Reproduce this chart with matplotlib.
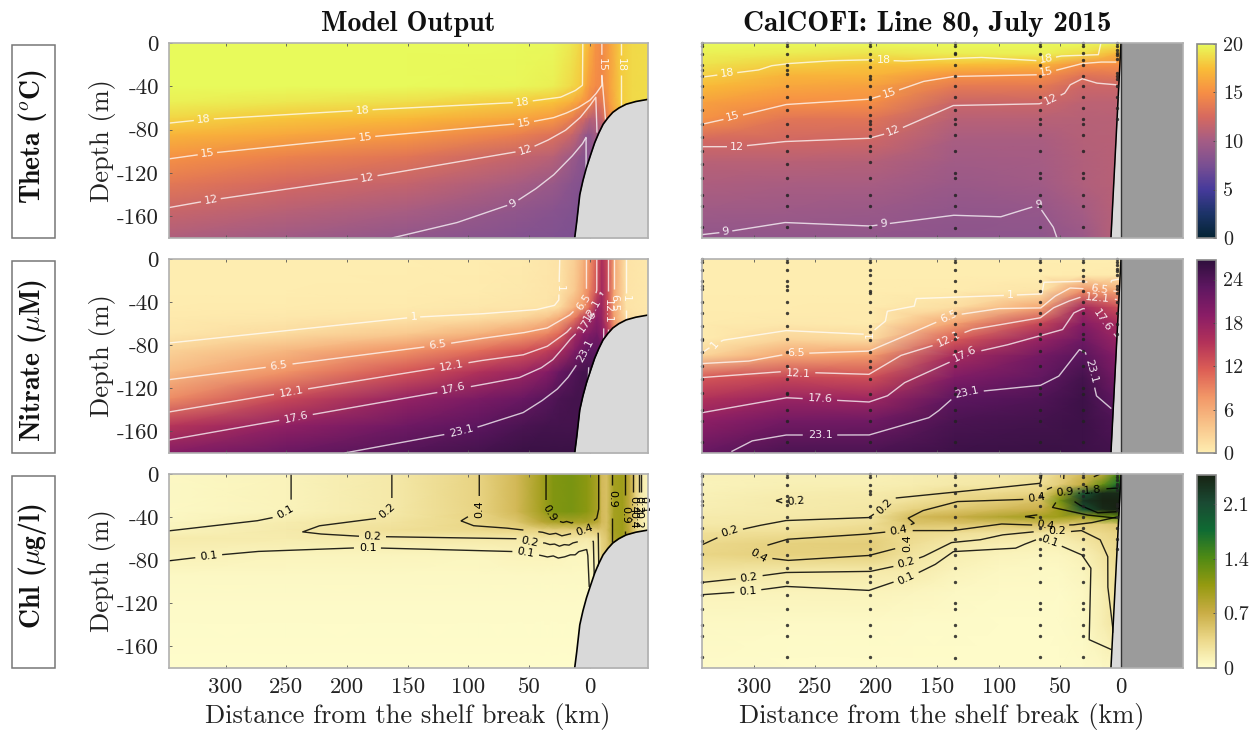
import matplotlib
matplotlib.use("Agg")
import matplotlib.pyplot as plt
import numpy as np
from matplotlib.colors import LinearSegmentedColormap
from matplotlib.patches import Rectangle

plt.rcParams['font.family'] = 'cmr10'
plt.rcParams['mathtext.fontset'] = 'cm'
plt.rcParams['axes.unicode_minus'] = False

W, H = 1250, 731

depth_ticks = [0, -40, -80, -120, -160]
dist_ticks = [300, 250, 200, 150, 100, 50, 0]

# ---- topography
topo_x = [12.4, 10.7, 8.2, 5.6, 2.7, -0.8, -4.1, -7.5, -11, -15, -19, -24, -30, -38, -48]
topo_z = [-180, -165, -140, -127, -115, -103, -92, -83, -75, -69, -64, -60, -56.5, -54, -52]
wedge_x = [8.2, 0]
wedge_z = [-180, 0]

# ---- CalCOFI stations, depths sampled at each one
station_x = [342.5, 273.4, 205, 136, 66, 31, 3.3]
theta_depths = [
    [0, 3, 10, 20, 25, 30, 40, 50, 62, 75, 87, 100, 112, 125, 140, 150, 170],
    [0, 3, 10, 20, 25, 29, 40, 50, 62, 75, 86, 100, 112, 125, 140, 150, 170],
    [0, 3, 10, 16, 22, 30, 33, 40, 50, 52, 59, 66, 72, 75, 79, 86, 95, 100, 110, 125, 140, 150, 170],
    [0, 3, 9, 10, 20, 30, 40, 50, 62, 70, 75, 85, 100, 120, 125, 140, 150, 171],
    [0, 3, 10, 20, 30, 40, 50, 62, 70, 75, 85, 100, 120, 125, 140, 150, 170],
    [0, 3, 9, 16, 20, 30, 40, 50, 60, 70, 75, 85, 100, 120, 125, 140, 150, 170],
    [0, 3, 6, 9, 11, 15, 28, 30, 33, 40, 50, 60, 70],
]
nitrate_depths = [
    [0, 3, 10, 20, 25, 28, 40, 50, 62, 74, 75, 86, 99, 111, 124, 140, 150, 170],
    [0, 3, 10, 20, 25, 29, 40, 50, 62, 74, 86, 99, 111, 124, 125, 140, 150, 170],
    [0, 3, 10, 15, 22, 30, 32, 40, 49, 62, 68, 75, 86, 95, 100, 111, 125, 140, 150, 170],
    [0, 3, 10, 20, 30, 40, 50, 60, 70, 74, 85, 99, 120, 125, 140, 150, 170],
    [0, 3, 10, 20, 30, 40, 50, 60, 70, 74, 85, 99, 120, 125, 140, 150, 170],
    [0, 3, 10, 16, 20, 30, 40, 50, 60, 70, 74, 85, 99, 120, 125, 140, 150, 170],
    [0, 3, 6, 9, 11, 15, 25, 28, 32, 40, 50, 60, 70],
]
chl_depths = [
    [0, 2, 9, 19, 25, 29, 40, 50, 62, 74, 87, 100, 112, 125, 140, 150, 170],
    [0, 3, 10, 20, 25, 29, 40, 50, 62, 75, 87, 100, 112, 125, 140, 150, 170],
    [0, 3, 10, 16, 19, 30, 40, 50, 62, 70, 75, 87, 95, 100, 112, 125, 140, 150, 170],
    [0, 3, 10, 18, 30, 40, 50, 60, 70, 75, 87, 100, 120, 125, 140, 150, 171],
    [0, 3, 10, 20, 30, 40, 50, 60, 70, 75, 87, 100, 120, 125, 140, 150, 170],
    [0, 3, 9, 16, 20, 30, 40, 50, 60, 70, 75, 87, 100, 120, 125, 140, 150, 170],
    [0, 3, 6, 9, 11, 15, 28, 30, 33, 40, 50, 60, 70],
]

# ---- fields, model side
theta_m_x = [347, 250, 150, 60, 30, 15, 8, 3, 0, -5, -10, -16, -25, -35, -48]
theta_m_z = [0, -40, -55, -70, -85, -105, -130, -155, -180]
theta_m = [
    [20, 20, 20, 20, 19.9, 19.2, 18.5, 17.8, 16.8, 15.3, 14.6, 15.8, 18, 18.6, 18.8],
    [20, 20, 20, 19.8, 19.5, 18.6, 18, 16.3, 15.5, 14.8, 14.6, 15.8, 18, 18.6, 18.8],
    [19.6, 19.2, 18.8, 18, 17.6, 16.6, 15.7, 15, 14.5, 13, 13.5, 15.5, 18, 18.6, 18.8],
    [18.4, 17.8, 17.2, 16.2, 15.5, 14, 12.8, 11.8, 11, 11, 12, 14.5, 17.5, 18, 18],
    [17, 16.3, 15.5, 14, 13, 11.8, 10.5, 9, 8.8, 10, 10, 10, 10, 10, 10],
    [15.2, 14.2, 13.3, 11.7, 11, 9.6, 8.7, 8.3, 8.3, 8.3, 8.3, 8.3, 8.3, 8.3, 8.3],
    [13.5, 12.4, 11.6, 10.2, 9.3, 8.4, 8.1, 8, 8, 8, 8, 8, 8, 8, 8],
    [11.8, 11, 10.2, 8.9, 8.3, 8, 7.8, 7.8, 7.8, 7.8, 7.8, 7.8, 7.8, 7.8, 7.8],
    [10.5, 9.7, 8.9, 8.1, 7.9, 7.8, 7.8, 7.8, 7.8, 7.8, 7.8, 7.8, 7.8, 7.8, 7.8],
]
nitrate_m_x = [347, 250, 150, 91, 55, 35, 25, 12, 5, 0, -6, -10, -15, -20, -30, -48]
nitrate_m_z = [0, -30, -45, -55, -70, -85, -105, -130, -155, -180]
nitrate_m = [
    [.1, .1, .1, .2, .4, .7, 1, 3, 5.5, 8, 12, 16, 13, 6.5, 1, .5],
    [.1, .1, .2, .3, .5, .8, 1, 3.5, 6.5, 9, 13, 17, 13, 6.5, 1, .5],
    [.2, .3, .4, .6, .8, .9, 1.6, 6, 7.5, 11, 17.6, 17.6, 13, 6.5, 1, .5],
    [.4, .6, 1, 1.5, 2.5, 4, 6, 10, 14.5, 17, 19, 18, 13, 7, 1.5, .5],
    [.7, 1.8, 3.5, 5.5, 7.5, 9, 11, 17, 19, 20, 21, 19, 16, 10, 4, 1],
    [2.5, 5, 8, 10.5, 12.5, 14, 16, 20, 22, 23, 23, 23, 23, 23, 23, 23],
    [4.5, 8, 12.5, 15.5, 17.5, 19.5, 22, 24, 25, 25, 25, 25, 25, 25, 25, 25],
    [8.5, 13.5, 18.2, 20.5, 22, 23.5, 24.5, 25, 25, 25, 25, 25, 25, 25, 25, 25],
    [15, 18.5, 21.5, 23.1, 24.5, 25, 25, 25, 25, 25, 25, 25, 25, 25, 25, 25],
    [19.5, 22, 23.8, 25, 25.8, 25.8, 25.8, 25.8, 25.8, 25.8, 25.8, 25.8, 25.8, 25.8, 25.8, 25.8],
]
chl_m_x = [347, 250, 163, 91, 60, 40, 30, 15, 2, -7, -10, -14, -20, -27, -33, -38, -42, -48]
chl_m_z = [0, -35, -45, -52, -60, -75, -95, -125, -180]
chl_m = [
    [.05, .1, .2, .4, .62, .95, 1.15, 1.2, 1.1, .9, .6, .55, .95, 1.0, .75, .4, .2, .08],
    [.05, .1, .2, .4, .62, .95, 1.15, 1.2, 1.1, .9, .6, .55, .95, 1.0, .75, .4, .2, .08],
    [.07, .17, .25, .38, .5, .8, .9, .9, .9, .8, .6, .55, .95, 1.0, .75, .4, .2, .08],
    [.1, .19, .28, .36, .38, .42, .45, .45, .42, .5, .5, .55, .95, 1.0, .75, .4, .2, .08],
    [.18, .17, .19, .2, .2, .22, .22, .22, .2, .25, .42, .5, .9, 1.0, .75, .4, .2, .08],
    [.12, .09, .09, .07, .1, .1, .1, .08, .08, .15, .4, .5, .7, .8, .7, .4, .2, .08],
    [.05, .05, .05, .05, .05, .05, .05, .05, .05, .1, .3, .3, .3, .3, .3, .3, .2, .08],
    [.03, .03, .03, .03, .03, .03, .03, .03, .03, .03, .03, .03, .03, .03, .03, .03, .03, .03],
    [.01, .01, .01, .01, .01, .01, .01, .01, .01, .01, .01, .01, .01, .01, .01, .01, .01, .01],
]

# ---- fields, CalCOFI side
theta_c_x = [342.5, 273.4, 205, 136, 66, 31, 3.3, -2]
theta_c_z = [0, -10, -20, -30, -40, -55, -70, -90, -110, -130, -155, -180]
theta_c = [
    [20, 20, 20, 20, 20, 20, 19.6, 19.6],
    [19.6, 19.3, 19, 19.4, 19.6, 18.8, 17, 17],
    [19, 18.2, 17.8, 17.5, 17.2, 15, 15, 15],
    [18.2, 17, 17, 15.2, 15, 13.2, 13.5, 13.5],
    [17.4, 16.3, 16, 13.6, 13.6, 12, 12, 12],
    [16, 15, 15, 11.8, 12, 11.2, 11.2, 11.2],
    [15.2, 13.4, 13.3, 11, 11, 10.9, 11, 11],
    [12.4, 12.2, 12.1, 10.2, 10.3, 10.8, 11, 11],
    [11, 11, 10.8, 9.8, 10, 10.7, 11, 11],
    [10.4, 10.3, 10.2, 9.4, 9.8, 10.6, 11, 11],
    [9.7, 9.6, 9.4, 8.9, 9.1, 10, 11, 11],
    [8.9, 8.9, 8.9, 8.6, 8.7, 9.4, 11, 11],
]
nitrate_c_x = [342.5, 273.4, 205, 136, 66, 31, 3.3, -2]
nitrate_c_z = [0, -15, -30, -45, -60, -75, -90, -110, -130, -150, -180]
nitrate_c = [
    [.1, .1, .1, .1, .1, .1, .1, .1],
    [.1, .1, .1, .1, .1, .3, .4, .4],
    [.1, .1, .1, .3, .8, 8.5, 6.5, 6.5],
    [.15, .2, .3, 1.5, 6.5, 16.8, 13, 13],
    [.3, .5, .3, 6.8, 13.5, 19.5, 16.5, 16.5],
    [.3, 2.5, 1.8, 12, 18, 21.5, 17.8, 17.8],
    [2.5, 6.5, 7.5, 16.5, 21, 23.3, 19.5, 19.5],
    [12.1, 13.5, 12.8, 20, 22.5, 25, 21, 21],
    [15.5, 17.8, 17.2, 23.1, 24, 25.5, 22.8, 22.8],
    [18.6, 21, 21.2, 24.5, 25, 25.5, 24, 24],
    [22.3, 24.5, 24.5, 25.5, 25.8, 25.5, 25, 25],
]
chl_c_x = [342.5, 273.4, 205, 170, 136, 100, 66, 50, 31, 15, 3.3, -2]
chl_c_z = [0, -10, -18, -25, -33, -40, -47, -55, -65, -75, -90, -110, -140, -180]
chl_c = [
    [.12, .12, .12, .15, .18, .2, .25, .4, .6, .8, 1.4, 1.4],
    [.1, .13, .14, .16, .2, .22, .3, .45, .75, 1.3, 1.7, 1.7],
    [.12, .16, .18, .22, .33, .35, .4, .9, 2.0, 2.4, 2.4, 2.4],
    [.13, .18, .2, .28, .38, .45, .55, 1.2, 2.3, 2.5, 2.5, 2.5],
    [.15, .18, .22, .42, .5, .6, .7, 1.0, 2.0, 2.4, 2.5, 2.5],
    [.18, .2, .25, .6, .7, .85, .95, 1.0, .9, 1.2, 1.3, 1.3],
    [.2, .22, .3, .5, .5, .5, .55, .5, .45, .45, .5, .5],
    [.28, .3, .38, .35, .3, .25, .25, .22, .3, .35, .4, .4],
    [.35, .42, .45, .3, .2, .15, .13, .12, .2, .3, .35, .35],
    [.38, .42, .42, .25, .15, .1, .08, .08, .12, .25, .35, .35],
    [.25, .21, .2, .18, .1, .06, .05, .05, .09, .2, .3, .3],
    [.1, .1, .1, .08, .05, .04, .04, .03, .06, .15, .3, .3],
    [.05, .04, .04, .03, .03, .02, .02, .03, .05, .15, .25, .25],
    [.03, .02, .02, .02, .02, .02, .02, .02, .03, .05, .06, .06],
]

# ---- contours (km, m)
theta_m_lines = [
    ([347, 318, 187, 55, 24, 12, 6, 5.7], [-74, -70.6, -62, -54.6, -50, -44, -39, 0]),
    ([-26, -26], [0, -60]),
    ([347, 315, 185, 54, 30, 20, 10, 0, -5, -10, -10], [-107, -102, -87, -74, -69, -65, -60, -53, -47, -39, 0]),
    ([-10, -13], [-30, -71]),
    ([347, 312, 183, 53, 35, 20, 8, 0, -5, -6], [-152, -145, -124, -99, -90, -80.6, -69, -58, -50, -83]),
    ([163, 110, 63, 45, 30, 15, 6, 3, 3], [-180, -166, -148, -135, -122, -105, -93, -87, -125]),
]
theta_m_labels = [
    ("18", 318, -70.6, 5), ("18", 187, -62, 4), ("18", 55, -54.6, 6),
    ("15", 315, -102, 6), ("15", 185, -87, 6), ("15", 54, -74, 10),
    ("12", 312, -145, 10), ("12", 183, -124, 10), ("12", 53, -99, 18),
    ("9", 63, -148, 30), ("15", -10, -20, -90), ("18", -26, -20, -90),
]
nitrate_m_lines = [
    ([347, 145, 91, 44, 29, 25.5, 24.7], [-78, -54, -51, -47, -43, -38, 0]),
    ([-29.7, -29.7], [0, -56.5]),
    ([347, 256, 125, 91, 55, 35, 16.5, 10, 2.7, 2.7], [-112, -99, -80, -74, -68.5, -64, -52, -45, -29, 0]),
    ([-20, -20], [0, -63]),
    ([347, 246, 114, 91, 55, 35, 19, 8, -2.7, -5.8, -5.8], [-142, -123, -99, -94.5, -89, -81, -68, -55, -41, -29, 0]),
    ([-15, -15], [0, -69]),
    ([347, 242, 91, 58, 40, 30.5, 23, 16.5, 6.6, -6.6, -8.7, -11.5, -11.5], [-168, -147, -117, -110, -101, -93.5, -84, -75, -64, -44, -31, -34, -74]),
    ([202, 106, 91, 55, 40, 27, 18, 10.7, 1.6, 0, 1.2], [-180, -160, -155.5, -142.6, -132, -121, -110, -98, -73, -70, -112]),
]
nitrate_m_labels = [
    ("1", 145, -54, 4), ("1", 25, -27, -90), ("1", -29.7, -37, -90),
    ("6.5", 256, -99, 8), ("6.5", 125, -80, 8), ("6.5", 5, -40, 55), ("6.5", -20, -41, -90),
    ("12.1", 246, -123, 10), ("12.1", 114, -99, 10), ("12.1", -2, -47, 60), ("12.1", -15, -49, -90),
    ("17.6", 242, -147, 12), ("17.6", 112, -120, 12), ("17.6", 2, -58, 55),
    ("23.1", 106, -160, 14), ("23.1", 4, -85, 62),
]
chl_m_lines = [
    ([347, 274.5, 257, 251, 246, 246], [-52.8, -43.5, -39.5, -38, -27, 0]),
    ([347, 320, 314, 274.5, 191, 179, 61, 53, 40, 35, 30, 26, 21, 16, 12, 9, 2.5, 1.6, 0.4],
     [-80.6, -77, -76, -71.9, -68.5, -68.5, -72, -73, -75.6, -77, -76, -78, -77, -75, -75, -72, -70, -75, -105]),
    ([163, 163, 167, 174, 222.5, 236.5, 222.5, 186, 179, 61, 49.5, 37, 33, 29, 25, 21, 17, 14, 10, 5.8, 0.8, -3, -3.7],
     [0, -27, -36, -41, -48, -53.7, -55.6, -58, -58, -60, -63, -64, -65.5, -65, -67, -65.5, -66, -64, -63, -60, -59, -62.7, -94]),
    ([91, 91, 95, 106, 95.6, 70, 39, 33, 28, 23, 18, 12, 4.6, -2, -7, -7.5],
     [0, -27, -36, -43.5, -48, -50, -54, -56, -55, -57.4, -56, -54.6, -53.4, -53, -55, -90]),
    ([36, 36, 34, 26, 22, 19, 15, 12, 8, 4, 0, -3, -5.8, -7.4, -7.4],
     [0, -27, -37, -43.5, -45, -44, -45.5, -44, -45.5, -44, -45, -43.5, -41, -33, 0]),
    ([-18.7, -18.7], [0, -63]),
    ([-29.4, -29.4], [0, -56]),
    ([-36, -36], [0, -54]),
    ([-40.5, -40.5], [0, -53]),
    ([-42, -42], [0, -53]),
]
chl_m_labels = [
    ("0.1", 251, -35, 30), ("0.1", 314, -76, 6), ("0.1", 183, -68.5, 0), ("0.1", 52.7, -73, -10),
    ("0.2", 167, -34, 40), ("0.2", 179, -58, -3), ("0.2", 49.5, -63, -12),
    ("0.4", 91, -33, 90), ("0.4", 4.6, -52, 20),
    ("0.9", 33, -36, -60), ("0.9", -18.7, -23, -90), ("0.9", -29.4, -38, -90),
    ("0.4", -36, -29, -90), ("0.2", -40, -29, -90), ("0.1", -44, -29, -90),
    ("0.4", -36, -43, -90), ("0.2", -40, -43, -90),
]

# ---- contours (km, m)
theta_c_lines = [
    ([342.5, 326, 296.6, 285.8, 272, 238, 204, 178, 136, 114.7, 67, 49, 18.5, 16.4],
     [-31.5, -29, -25, -21, -19, -16.4, -15.4, -16.7, -14.2, -13.3, -16.4, -12, -10.8, 0]),
    ([342.5, 317, 300, 274, 206, 189, 161.6, 137, 67, 32, 16.9, 3.7],
     [-75, -68.6, -64, -56.8, -51.9, -46.3, -35.5, -30.9, -29.3, -19, -17.6, -17.6]),
    ([342.5, 314, 275.5, 206, 186, 137, 67, 57, 46, 41.5, 31.7, 20, 3.7],
     [-95.7, -95.7, -91, -88, -81.8, -57.7, -56.2, -52.5, -46.3, -38.6, -33, -37, -38.6]),
    ([342.5, 323, 275, 205, 194, 137, 98.5, 67.7, 55.4, 52.3],
     [-176.9, -174.4, -165.7, -169, -167.3, -159, -160.5, -149.7, -169.8, -180]),
]
theta_c_labels = [
    ("18", 322, -28, 8), ("18", 194, -15.5, 0), ("18", 61, -15, 10),
    ("15", 317, -68, 15), ("15", 189, -46, 18), ("15", 61, -27, 10),
    ("12", 314, -95.7, 0), ("12", 186, -81, 22), ("12", 57, -52, 25),
    ("9", 323, -174.4, 8), ("9", 194, -167, 5), ("9", 67.7, -149, 5),
]
nitrate_c_lines = [
    ([342.5, 332, 325, 274, 206, 192.6, 191, 169, 167.4, 90.5, 64.6, 63, 32, 9, 7.7, 1],
     [-87, -79, -75.3, -66.4, -70, -57.7, -48.5, -43.8, -36.7, -33.6, -32.4, -21.6, -20.7, -24.7, -20, -18.5]),
    ([342.5, 304.7, 272, 206, 180, 149, 141, 100, 65.6, 54, 41.5, 26, 3],
     [-97, -94.8, -88, -85.5, -73, -57.7, -53, -46, -45.4, -34.6, -26.9, -27.8, -30]),
    ([342.5, 278, 206, 180, 151, 141, 121.6, 66, 55.4, 43, 32, 3],
     [-110, -104.6, -107, -89.5, -79.3, -74, -65.4, -54.6, -45.4, -39.2, -35, -37.6]),
    ([342.5, 273.4, 206, 191, 177, 140, 128, 94, 47.7, 38.5, 31, 23, 3],
     [-142.6, -128.7, -132.7, -127, -114.8, -95.7, -88.6, -80, -65.4, -50, -46, -47, -73]),
    ([318.5, 301.7, 274, 206, 157, 149.3, 138.5, 126, 66, 50.8, 33.9, 29, 24.6, 20, 7.7],
     [-178.7, -168.8, -163.3, -163.3, -147.2, -141, -130.2, -124, -117.3, -108.6, -84, -87, -104, -127, -139]),
]
nitrate_c_labels = [
    ("1", 332, -79, 50), ("1", 90.5, -33.6, 0), ("1", 205, -70, 90),
    ("6.5", 266, -87, 0), ("6.5", 141, -53, 25), ("6.5", 18, -28, -8),
    ("12.1", 264, -106, -3), ("12.1", 141, -74, 25), ("12.1", 19, -36, -5),
    ("17.6", 246, -130, -3), ("17.6", 128, -88, 25), ("17.6", 15, -57, -55),
    ("23.1", 246, -163, 0), ("23.1", 126, -124, 12), ("23.1", 24.6, -104, -75),
]
chl_c_lines = [
    ([342.5, 320, 297, 274, 206, 193, 186, 137, 66, 64.6], [-65.7, -54, -48.1, -43.2, -40.4, -30, -22.5, -17, -8.6, 0]),
    ([282, 272, 272.4, 282], [-24.7, -21, -28.7, -24.7]),
    ([3.7, 23, 38.5, 61.6, 97, 137, 181.6, 206, 272.4, 300, 301.6, 287.8, 272.4, 206, 180, 175.4, 172.4, 169, 174, 162, 134, 77, 69, 62, 60, 47, 46.6],
     [-40, -45, -47.2, -47.8, -46.3, -52.5, -52.5, -55.6, -60.5, -69.8, -73.5, -78, -80.2, -75.6, -67.9, -62.7, -47.2, -45.7, -41, -34, -25.6, -23.5, -22, -17.6, -14, -8, 0]),
    ([78.5, 69, 61.6, 69, 78.5], [-39.5, -38, -39.5, -41, -39.5]),
    ([342.5, 304, 274.3, 205, 186, 175.4, 161.6, 138.5, 115.4, 97, 69, 60, 50.8, 41.5, 32.3, 17, 10.8, 10.8, 6.2],
     [-100.6, -96, -91.4, -90.4, -85.8, -82, -76.6, -63.6, -61.1, -56.5, -53.4, -52, -53.4, -53.4, -52.5, -61, -76.5, -104.3, -147.5]),
    ([342.5, 305, 274, 206, 180, 175.4, 152, 137, 86, 80, 66, 58.5, 49, 32, 24.6, 26, 7.7],
     [-112, -109, -104.3, -108, -98, -97, -84, -72, -68.8, -65.7, -59.6, -62.7, -66.7, -75, -87.3, -153.7, -163]),
    ([17, 23, 24, 32, 46, 52, 56, 53, 56, 28, 3.3], [0, -3, -7, -13, -17, -19, -21, -26, -31, -38, -41]),
    ([2.5, 15.5, 35, 44, 33.5, 19, 3.3], [-13, -14, -18, -21, -29, -36, -35]),
]
chl_c_labels = [
    ("0.2", 320, -53, 18), ("0.2", 193, -30, 45), ("0.2", 266, -25, 5),
    ("0.4", 296, -76, -30), ("0.4", 181.6, -52.5, 10), ("0.4", 174.5, -64, 90),
    ("0.4", 61.6, -48, -8), ("0.4", 69, -22, 8),
    ("0.2", 304, -96, 8), ("0.2", 175.4, -82, 15), ("0.2", 52, -53, 0),
    ("0.1", 305, -109, 4), ("0.1", 175.4, -97, 25), ("0.1", 58.5, -62, -20),
    ("0.9", 46, -17, 5), ("1.8", 23, -15, 5),
]

# colour maps sampled from the colour bars
thermal = LinearSegmentedColormap.from_list("thermal", ["#042333", "#1c3368", "#463a9b", "#7a4f92", "#a45c85", "#d6695f", "#f68e45", "#f9bd37", "#e8fa5b"])
matter = LinearSegmentedColormap.from_list("matter", ["#feedb0", "#f8c48a", "#f29868", "#dd5f55", "#b33259", "#8a1d66", "#5f1761", "#2f0f3d"])
speed = LinearSegmentedColormap.from_list("speed", ["#fffdcd", "#ecd98b", "#c9ad45", "#959a10", "#4f8a14", "#0f6b33", "#1a4a33", "#172313"])


def px_axes(x0, y0, x1, y1):
    return fig.add_axes([x0 / W, 1 - y1 / H, (x1 - x0) / W, (y1 - y0) / H])


def draw_line(ax, xs, zs, labels, color, alpha, lw):
    # cut a gap in the line where a label sits
    pts = ax.transData.transform(np.column_stack([xs, zs]))
    seg = np.hypot(*np.diff(pts, axis=0).T)
    s = np.r_[0, np.cumsum(seg)]
    si = np.arange(0, s[-1], 0.5)
    fx, fy = np.interp(si, s, pts[:, 0]), np.interp(si, s, pts[:, 1])
    for txt, lx, lz, rot in labels:
        c = ax.transData.transform((lx, lz))
        r = 3.6 * len(txt) + 2.5
        hit = np.hypot(fx - c[0], fy - c[1]) < r
        fx, fy = np.where(hit, np.nan, fx), np.where(hit, np.nan, fy)
    back = ax.transData.inverted()
    good = np.column_stack([fx, fy])
    out = np.full_like(good, np.nan)
    ok = ~np.isnan(fx)
    out[ok] = back.transform(good[ok])
    ax.plot(out[:, 0], out[:, 1], color=color, alpha=alpha, lw=lw, zorder=3, solid_capstyle="butt")


def panel(ax, xn, zn, values, cmap, vmax, lines, labels, color, alpha):
    mesh = ax.pcolormesh(xn, zn, np.array(values), shading="gouraud", cmap=cmap, vmin=0, vmax=vmax, rasterized=True, zorder=1)
    for xs, zs in lines:
        draw_line(ax, xs, zs, labels, color, alpha, 1.0)
    for txt, lx, lz, rot in labels:
        ax.text(lx, lz, txt, color=color, alpha=min(alpha + 0.15, 1), fontsize=8, family="DejaVu Sans",
                rotation=rot, rotation_mode="anchor", ha="center", va="center", zorder=4)
    return mesh


def finish(ax, left, bottom):
    ax.set_ylim(-180, 0)
    ax.set_yticks(depth_ticks)
    ax.set_xticks(dist_ticks)
    ax.set_yticklabels([str(v) for v in depth_ticks] if left else [])
    ax.set_xticklabels([str(v) for v in dist_ticks] if bottom else [])
    ax.tick_params(direction="in", length=2, width=0.6, color="#555555", top=True, labelsize=16.5, pad=7, labelcolor="#222222")
    if not left:
        ax.tick_params(left=False)
    for sp in ax.spines.values():
        sp.set_color("#b0b0b0")
        sp.set_linewidth(1.2)
        sp.set_zorder(8)


fig = plt.figure(figsize=(12.5, 7.31), dpi=100)

rows_px = [(43, 238), (259, 453), (474, 668)]
model_fields = [
    (theta_m_x, theta_m_z, theta_m, thermal, 20, theta_m_lines, theta_m_labels, "white", 0.75),
    (nitrate_m_x, nitrate_m_z, nitrate_m, matter, 26.7, nitrate_m_lines, nitrate_m_labels, "white", 0.75),
    (chl_m_x, chl_m_z, chl_m, speed, 2.47, chl_m_lines, chl_m_labels, "black", 0.85),
]
cal_fields = [
    (theta_c_x, theta_c_z, theta_c, thermal, 20, theta_c_lines, theta_c_labels, "white", 0.75, theta_depths),
    (nitrate_c_x, nitrate_c_z, nitrate_c, matter, 26.7, nitrate_c_lines, nitrate_c_labels, "white", 0.75, nitrate_depths),
    (chl_c_x, chl_c_z, chl_c, speed, 2.47, chl_c_lines, chl_c_labels, "black", 0.85, chl_depths),
]
cbar_ticks = [[0, 5, 10, 15, 20], [0, 6, 12, 18, 24], [0, 0.7, 1.4, 2.1]]
row_names = [r"Theta ($^{o}$C)", r"Nitrate ($\mu$M)", r"Chl ($\mu$g/l)"]
row_name_y = [137, 361, 566]

for i, (y0, y1) in enumerate(rows_px):
    # model side
    ax = px_axes(168.5, y0, 648, y1)
    ax.set_xlim(347, -48)
    ax.set_ylim(-180, 0)
    panel(ax, *model_fields[i])
    ax.fill_between(topo_x, topo_z, -180, color="#d9d9d9", zorder=5, lw=0)
    ax.plot(topo_x, topo_z, color="black", lw=1.2, zorder=6)
    finish(ax, True, i == 2)
    ax.set_ylabel("Depth (m)", fontsize=19, color="#222222", va="center")
    ax.yaxis.set_label_coords((103 - 168.5) / 479.5, 0.5)
    if i == 2:
        ax.set_xlabel("Distance from the shelf break (km)", fontsize=19, color="#222222", va="center")
        ax.xaxis.set_label_coords((408 - 168.5) / 479.5, (668 - 717) / 194)

    # CalCOFI side
    ax2 = px_axes(702, y0, 1183, y1)
    ax2.set_xlim(342.5, -50.7)
    ax2.set_ylim(-180, 0)
    mesh = panel(ax2, *cal_fields[i][:9])
    ax2.fill_betweenx([-180, 0], [8.2, 0], 0, color="#d9d9d9", zorder=5, lw=0)
    ax2.plot(wedge_x, wedge_z, color="black", lw=1.1, zorder=6)
    ax2.axvspan(-50.7, 0, color="#9b9b9b", zorder=5, lw=0)
    ax2.axvline(0, color="#333333", lw=1, zorder=6)
    for sx, zlist in zip(station_x, cal_fields[i][9]):
        ax2.plot([sx] * len(zlist), [-z for z in zlist], ls="none", marker="o", ms=2.1, mfc="#222222",
                 mec="#222222", mew=0.3, alpha=0.85, zorder=7, clip_on=False)
    finish(ax2, False, i == 2)
    if i == 2:
        ax2.set_xlabel("Distance from the shelf break (km)", fontsize=19, color="#222222", va="center")
        ax2.xaxis.set_label_coords((942 - 702) / 481, (668 - 717) / 194)

    # colour bar
    cax = px_axes(1196.5, y0 + 1, 1216, y1)
    cb = fig.colorbar(mesh, cax=cax, ticks=cbar_ticks[i])
    cb.ax.set_yticklabels([("%g" % v) for v in cbar_ticks[i]])
    cb.ax.tick_params(direction="in", length=2, width=0.6, color="#444444", labelsize=14.5, pad=5, labelcolor="#222222")
    cb.outline.set_edgecolor("#8a8a8a")
    cb.outline.set_linewidth(1.2)

    # row name box
    fig.add_artist(Rectangle((11.5 / W, 1 - (y1 + 0) / H), 43.5 / W, (y1 - y0 - 2) / H, transform=fig.transFigure,
                             fc="white", ec="#777777", lw=1.1))
    fig.text(32.5 / W, 1 - row_name_y[i] / H, row_names[i], rotation=90, ha="center", va="center",
             family="cmb10", fontsize=20, color="#111111")

fig.text(408 / W, 1 - 24 / H, "Model Output", ha="center", va="center", family="cmb10", fontsize=20, color="#111111")
fig.text(927 / W, 1 - 24 / H, "CalCOFI: Line 80, July 2015", ha="center", va="center", family="cmb10", fontsize=21, color="#111111")

fig.savefig("out.png", dpi=100)
